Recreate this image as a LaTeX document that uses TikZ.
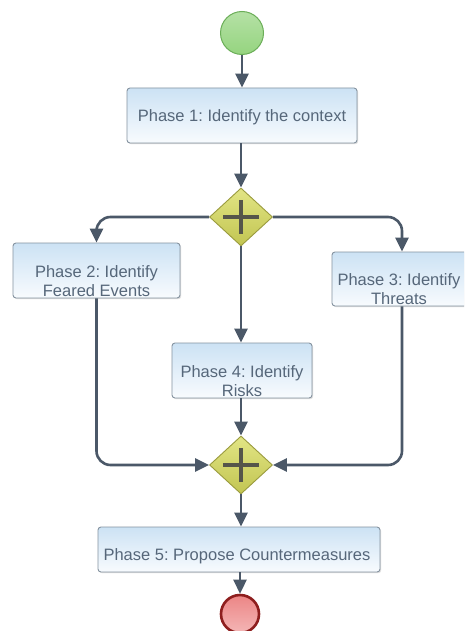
\documentclass[tikz,border=0pt]{standalone}
\usepackage{fontspec}
\setmainfont{Liberation Sans}
\usetikzlibrary{arrows.meta,shapes.geometric,shadows}
\definecolor{linec}{HTML}{4B5868}
\definecolor{boxtop}{HTML}{CCE2F4}
\definecolor{boxbot}{HTML}{F8FBFE}
\definecolor{boxedge}{HTML}{8593A0}
\definecolor{txtc}{HTML}{56677A}
\definecolor{gwtop}{HTML}{E2E585}
\definecolor{gwbot}{HTML}{C2C552}
\definecolor{gwedge}{HTML}{9A9B3E}
\definecolor{plusc}{HTML}{55554A}
\definecolor{startfill}{HTML}{95D47F}
\definecolor{startedge}{HTML}{6BAE58}
\definecolor{endfill}{HTML}{EC8585}
\definecolor{endedge}{HTML}{8E1E1E}
\frenchspacing
\tikzset{
  box/.style={draw=boxedge, line width=0.9pt, rounded corners=3pt, top color=boxtop, bottom color=boxbot, inner sep=0pt, drop shadow={shadow xshift=1.2pt, shadow yshift=-1.2pt, fill=black!25, opacity=0.5}},
  txt/.style={text=txtc, font=\fontsize{16.5}{19}\selectfont, align=center, inner sep=0pt},
  gw/.style={diamond, draw=gwedge, line width=0.9pt, top color=gwtop, bottom color=gwbot, minimum width=63pt, minimum height=58pt, inner sep=0pt},
  plus/.style={line width=3.8pt, draw=plusc},
  flow/.style={draw=linec, line width=2.6pt, -{Triangle[length=14pt,width=13pt]}},
  startev/.style={circle, draw=startedge, line width=1pt, top color=startfill!70!white, bottom color=startfill, minimum size=43pt, inner sep=0pt},
  endev/.style={circle, draw=endedge, line width=2.6pt, top color=endfill, bottom color=endfill!60!white, minimum size=38pt, inner sep=0pt},
}
\begin{document}
\begin{tikzpicture}[x=1pt,y=-1pt]
\clip (0,0) rectangle (464,631);
\fill[white] (0,0) rectangle (464,631);
% events
\node[startev] (start) at (242,33) {};
\node[endev] (end) at (240,614) {};
% boxes
\node[box, minimum width=230pt, minimum height=55pt] (p1) at (242,115.5) {};
\node[txt] (p1t) at (242,117) {Phase 1: Identify the context};
\node[box, minimum width=167pt, minimum height=55pt] (p2) at (96.5,270.5) {};
\node[txt] (p2t) at (96.5,281.5) {Phase 2: Identify\\Feared Events};
\node[box, minimum width=140pt, minimum height=54pt] (p3) at (402,279) {};
\node[txt] (p3t) at (399,289) {Phase 3: Identify\\Threats};
\node[box, minimum width=140pt, minimum height=55pt] (p4) at (242,370.5) {};
\node[txt] (p4t) at (242,381) {Phase 4: Identify\\Risks};
\node[box, minimum width=282pt, minimum height=45pt] (p5) at (239,549.5) {};
\node[txt] (p5t) at (237,556) {Phase 5: Propose Countermeasures};
% gateways
\node[gw] (g1) at (241,217) {};
\draw[plus] ([yshift=17pt]g1.center) -- ([yshift=-17pt]g1.center) ([xshift=-18pt]g1.center) -- ([xshift=18pt]g1.center);
\node[gw] (g2) at (241,465) {};
\draw[plus] ([yshift=17pt]g2.center) -- ([yshift=-17pt]g2.center) ([xshift=-18pt]g2.center) -- ([xshift=18pt]g2.center);
% flows
\draw[flow] (start) -- (p1.north -| start);
\draw[flow] (p1.south -| g1) -- (g1.north);
\draw[flow, rounded corners=14pt] (g1.west) -| (p2.north);
\draw[flow, rounded corners=14pt] (g1.east) -| (p3.north);
\draw[flow] (g1.south) -- (p4.north -| g1);
\draw[flow] (p4.south -| g2) -- (g2.north);
\draw[flow, rounded corners=14pt] (p2.south) |- (g2.west);
\draw[flow, rounded corners=14pt] (p3.south) |- (g2.east);
\draw[flow] (g2.south) -- (p5.north -| g2);
\draw[flow] (p5.south -| end) -- (end.north);
\end{tikzpicture}
\end{document}
